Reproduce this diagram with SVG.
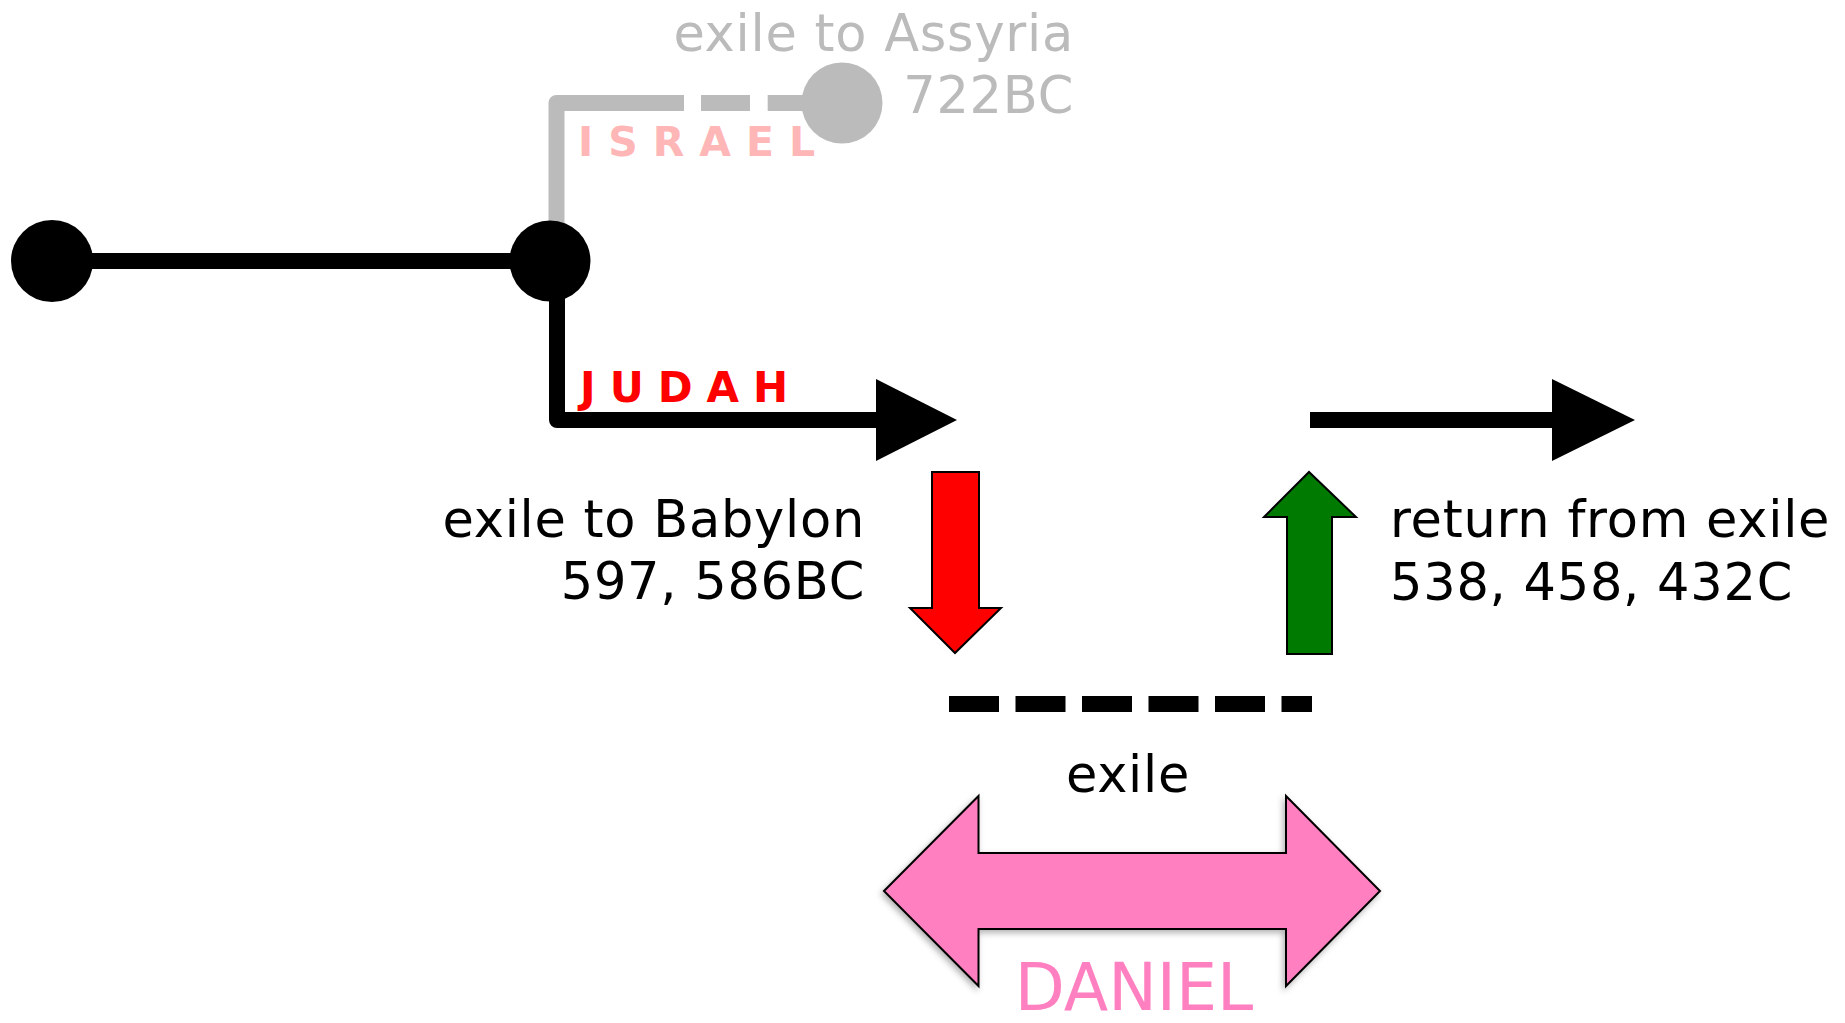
<svg xmlns="http://www.w3.org/2000/svg" width="1845" height="1023" viewBox="0 0 1845 1023">
<defs>
<style>
text{font-family:"DejaVu Sans",Verdana,sans-serif;}
.lbl{font-size:51px;fill:#000;letter-spacing:0.75px}
.gray{fill:#bbbbbb}
.caps{font-weight:bold;letter-spacing:15px}
.blk{stroke:#000;stroke-width:16;fill:none;stroke-linejoin:round}
.gln{stroke:#bbbbbb;stroke-width:16;fill:none;stroke-linejoin:round}
.outl{stroke:#000;stroke-width:2}
</style>
<filter id="sh" x="-10%" y="-10%" width="130%" height="140%">
<feDropShadow dx="-2" dy="3" stdDeviation="3" flood-color="#000" flood-opacity="0.3"/>
</filter>
</defs>
<rect width="1845" height="1023" fill="#fff"/>
<g id="connectors">
<path class="blk" d="M52 261 H550"/>
<path class="gln" d="M556.5 225 V103 H684"/>
<path class="gln" d="M701 103 H750"/>
<path class="gln" d="M767.7 103 H805"/>
<path class="blk" d="M557 295 V420 H880"/>
<polygon points="876,379 957,420 876,461" fill="#000"/>
<path class="blk" d="M1310 420 H1556"/>
<polygon points="1552,379 1635,420 1552,461" fill="#000"/>
<path class="blk" d="M949 704 H1312" stroke-dasharray="50 16.5"/>
</g>
<g id="start"><circle cx="52" cy="261" r="41" fill="#000"/></g>
<g id="junction"><circle cx="550" cy="261" r="40.5" fill="#000"/></g>
<g id="assyria">
<circle cx="842" cy="103" r="40.5" fill="#bbbbbb"/>
<text class="lbl gray" x="1074" y="51" text-anchor="end">exile to Assyria</text>
<text class="lbl gray" x="1074" y="113" text-anchor="end">722BC</text>
</g>
<g id="israel"><text class="caps" x="578" y="156" font-size="41" fill="#ffb6b6">ISRAEL</text></g>
<g id="judah"><text class="caps" x="580" y="402" font-size="42" fill="#ff0000" style="letter-spacing:14px">JUDAH</text></g>
<g id="babylon">
<polygon class="outl" points="932,472 979,472 979,608 1001,608 955,653 910,608 932,608" fill="#ff0000"/>
<text class="lbl" x="865" y="537" text-anchor="end">exile to Babylon</text>
<text class="lbl" x="865" y="599" text-anchor="end">597, 586BC</text>
</g>
<g id="return">
<polygon class="outl" points="1287,654 1332,654 1332,517 1356,517 1309,472 1264,517 1287,517" fill="#007a00"/>
<text class="lbl" x="1390" y="537">return from exile</text>
<text class="lbl" x="1390" y="600">538, 458, 432C</text>
</g>
<g id="exile"><text class="lbl" x="1128" y="792" text-anchor="middle" font-size="50">exile</text></g>
<g id="daniel">
<polygon class="outl" filter="url(#sh)" points="884,891 978.5,796 978.5,853 1286,853 1286,796 1380,891 1286,986 1286,929 978.5,929 978.5,986" fill="#ff7fc0"/>
<text x="1134" y="1010" text-anchor="middle" font-size="65" fill="#ff80c0">DANIEL</text>
</g>
</svg>
